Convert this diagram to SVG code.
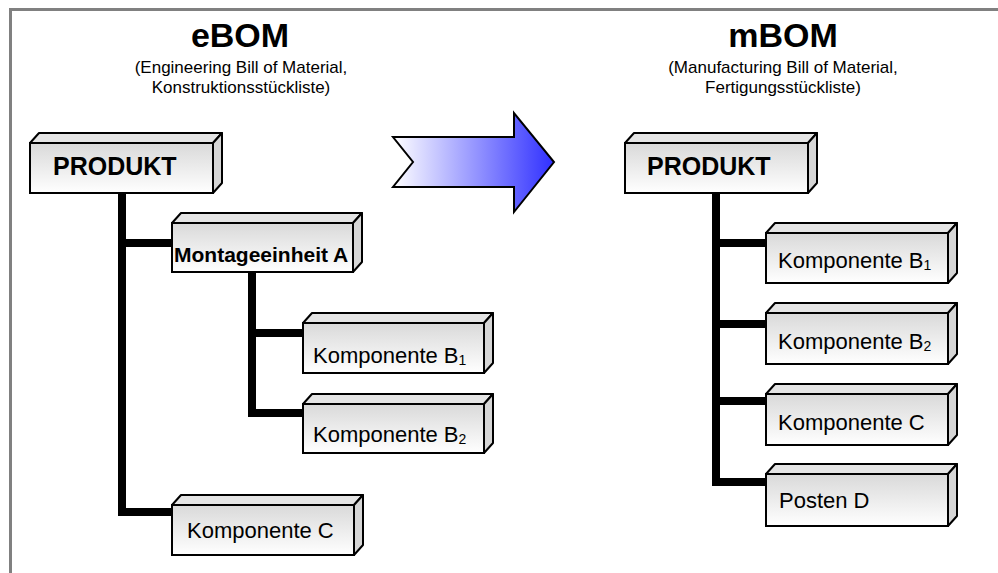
<svg xmlns="http://www.w3.org/2000/svg" width="998" height="573" viewBox="0 0 998 573">
<defs>
<linearGradient id="front" x1="0" y1="0" x2="0" y2="1">
<stop offset="0" stop-color="#d9d9d9"/>
<stop offset="1" stop-color="#ffffff"/>
</linearGradient>
<linearGradient id="arrowGrad" gradientUnits="userSpaceOnUse" x1="393" y1="0" x2="554" y2="0">
<stop offset="0" stop-color="#ffffff"/>
<stop offset="1" stop-color="#3030ff"/>
</linearGradient>
<style>
.front{fill:url(#front);stroke:#000;stroke-width:2}
.top{fill:#e4e4e4;stroke:#000;stroke-width:2;stroke-linejoin:round}
.side{fill:#d6d6d6;stroke:#000;stroke-width:2;stroke-linejoin:round}
.conn{fill:none;stroke:#000;stroke-width:8;stroke-linejoin:miter}
.title{font-family:"Liberation Sans",Arial,sans-serif;font-weight:bold;font-size:34px;text-anchor:middle;fill:#000}
.sub{font-family:"Liberation Sans",Arial,sans-serif;font-size:17px;text-anchor:middle;fill:#000}
.big{font-family:"Liberation Sans",Arial,sans-serif;font-weight:bold;font-size:25px;fill:#000}
.mid{font-family:"Liberation Sans",Arial,sans-serif;font-weight:bold;font-size:21px;fill:#000}
.lbl{font-family:"Liberation Sans",Arial,sans-serif;font-size:22px;fill:#000}
.subs{font-size:14px}
</style>
</defs>
<rect width="998" height="573" fill="#fff"/>
<path d="M10.5 573 V9.5 H998" fill="none" stroke="#808080" stroke-width="3"/>

<text class="title" x="240" y="47">eBOM</text>
<text class="sub" x="241" y="73">(Engineering Bill of Material,</text>
<text class="sub" x="241" y="93">Konstruktionsstückliste)</text>
<text class="title" x="783" y="47">mBOM</text>
<text class="sub" x="783" y="73">(Manufacturing Bill of Material,</text>
<text class="sub" x="783" y="93">Fertigungsstückliste)</text>

<g id="arrow">
<polygon points="393,137 514,137 514,113 554,162 514,212 514,187 393,187 413,162" fill="url(#arrowGrad)" stroke="#000" stroke-width="2" stroke-linejoin="miter"/>
</g>

<g id="connectors">
<path class="conn" d="M122 193 V512 H172 M122 243 H172"/>
<path class="conn" d="M252 272 V413 H303 M252 333 H303"/>
<path class="conn" d="M716 193 V482 H766 M716 243 H766 M716 324 H766 M716 401 H766"/>
</g>

<g id="e-produkt">
<polygon class="top" points="30,143 39,133 222,133 213,143"/>
<polygon class="side" points="213,143 222,133 222,183 213,193"/>
<rect class="front" x="30" y="143" width="183" height="50"/>
<text class="big" x="53" y="175">PRODUKT</text>
</g>
<g id="e-montage">
<polygon class="top" points="172,223 181,213 362,213 353,223"/>
<polygon class="side" points="353,223 362,213 362,262 353,272"/>
<rect class="front" x="172" y="223" width="181" height="49"/>
<text class="mid" x="174" y="262">Montageeinheit A</text>
</g>
<g id="e-b1">
<polygon class="top" points="303,323 312,313 493,313 484,323"/>
<polygon class="side" points="484,323 493,313 493,363 484,373"/>
<rect class="front" x="303" y="323" width="181" height="50"/>
<text class="lbl" x="313" y="363">Komponente B<tspan class="subs" dy="2">1</tspan></text>
</g>
<g id="e-b2">
<polygon class="top" points="303,404 312,394 493,394 484,404"/>
<polygon class="side" points="484,404 493,394 493,443 484,453"/>
<rect class="front" x="303" y="404" width="181" height="49"/>
<text class="lbl" x="313" y="442">Komponente B<tspan class="subs" dy="2">2</tspan></text>
</g>
<g id="e-c">
<polygon class="top" points="172,505 181,495 363,495 354,505"/>
<polygon class="side" points="354,505 363,495 363,545 354,555"/>
<rect class="front" x="172" y="505" width="182" height="50"/>
<text class="lbl" x="187" y="538">Komponente C</text>
</g>

<g id="m-produkt">
<polygon class="top" points="625,143 634,133 817,133 808,143"/>
<polygon class="side" points="808,143 817,133 817,183 808,193"/>
<rect class="front" x="625" y="143" width="183" height="50"/>
<text class="big" x="647" y="175">PRODUKT</text>
</g>
<g id="m-b1">
<polygon class="top" points="766,233 775,223 957,223 948,233"/>
<polygon class="side" points="948,233 957,223 957,273 948,283"/>
<rect class="front" x="766" y="233" width="182" height="50"/>
<text class="lbl" x="778" y="268">Komponente B<tspan class="subs" dy="2">1</tspan></text>
</g>
<g id="m-b2">
<polygon class="top" points="766,313 775,303 957,303 948,313"/>
<polygon class="side" points="948,313 957,303 957,354 948,364"/>
<rect class="front" x="766" y="313" width="182" height="51"/>
<text class="lbl" x="778" y="349">Komponente B<tspan class="subs" dy="2">2</tspan></text>
</g>
<g id="m-c">
<polygon class="top" points="766,394 775,384 957,384 948,394"/>
<polygon class="side" points="948,394 957,384 957,435 948,445"/>
<rect class="front" x="766" y="394" width="182" height="51"/>
<text class="lbl" x="778" y="430">Komponente C</text>
</g>
<g id="m-d">
<polygon class="top" points="766,474 775,464 957,464 948,474"/>
<polygon class="side" points="948,474 957,464 957,516 948,526"/>
<rect class="front" x="766" y="474" width="182" height="52"/>
<text class="lbl" x="779" y="508">Posten D</text>
</g>
</svg>
